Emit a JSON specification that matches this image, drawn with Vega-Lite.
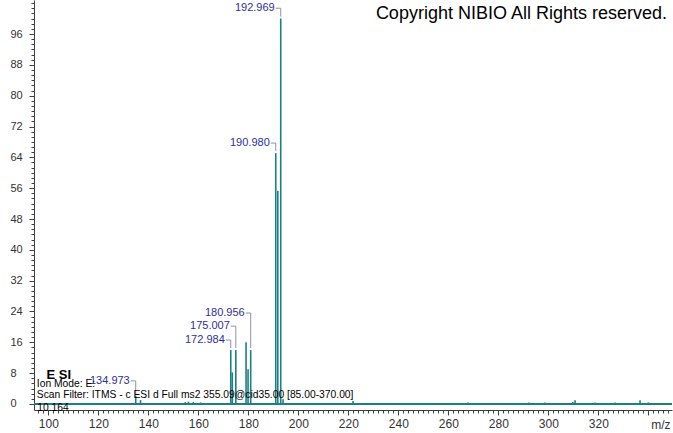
{
  "$schema": "https://vega.github.io/schema/vega-lite/v6.json",
  "width": 638,
  "height": 410,
  "autosize": {"type": "none"},
  "padding": {"left": 34, "top": 0, "right": 1, "bottom": 23},
  "background": "white",
  "config": {"view": {"stroke": null}, "font": "Liberation Sans", "axis": {"grid": false, "domainColor": "#404040", "tickColor": "#404040", "labelColor": "#333333", "labelFont": "Liberation Sans"}},
  "title": {"text": "Copyright NIBIO All Rights reserved.", "orient": "top", "anchor": "end", "frame": "group", "fontSize": 18, "fontWeight": "normal", "font": "Liberation Sans", "color": "#000000", "offset": 0, "baseline": "alphabetic", "dy": 37, "dx": -5},
  "datasets": {
    "peaks": [
      {"mz": 134.973, "intensity": 2.1},
      {"mz": 136.9, "intensity": 1.0},
      {"mz": 154.8, "intensity": 0.5},
      {"mz": 156.1, "intensity": 0.6},
      {"mz": 158.0, "intensity": 0.5},
      {"mz": 160.9, "intensity": 0.4},
      {"mz": 172.984, "intensity": 14.0},
      {"mz": 173.6, "intensity": 8.2},
      {"mz": 175.007, "intensity": 14.0},
      {"mz": 179.1, "intensity": 16.0},
      {"mz": 179.9, "intensity": 9.0},
      {"mz": 180.956, "intensity": 14.0},
      {"mz": 190.98, "intensity": 65.1},
      {"mz": 191.8, "intensity": 55.3},
      {"mz": 192.969, "intensity": 100},
      {"mz": 193.9, "intensity": 1.2},
      {"mz": 221.9, "intensity": 0.8},
      {"mz": 267.8, "intensity": 0.4},
      {"mz": 292.3, "intensity": 0.4},
      {"mz": 298.7, "intensity": 0.4},
      {"mz": 309.8, "intensity": 0.5},
      {"mz": 310.7, "intensity": 1.0},
      {"mz": 318.7, "intensity": 0.4},
      {"mz": 326.7, "intensity": 0.4},
      {"mz": 336.7, "intensity": 1.0},
      {"mz": 340.0, "intensity": 0.4}
    ],
    "labels": [
      {"mz": 192.969, "intensity": 100, "label": "192.969", "level": 102.7},
      {"mz": 190.98, "intensity": 65.1, "label": "190.980", "level": 67.7},
      {"mz": 180.956, "intensity": 14, "label": "180.956", "level": 23.6},
      {"mz": 175.007, "intensity": 14, "label": "175.007", "level": 20.2},
      {"mz": 172.984, "intensity": 14, "label": "172.984", "level": 16.6},
      {"mz": 134.973, "intensity": 2.1, "label": "134.973", "level": 6.0}
    ],
    "notes": [
      {"text": "Ion Mode: E:", "mz": 95.4, "intensity": 5.2},
      {"text": "Scan Filter: ITMS - c ESI d Full ms2 355.09@cid35.00 [85.00-370.00]", "mz": 95.4, "intensity": 2.3},
      {"text": "10.164", "mz": 95.6, "intensity": -1.0}
    ],
    "heading": [
      {"text": "E SI", "mz": 99.3, "intensity": 7.5}
    ]
  },
  "layer": [
    {
      "data": {"name": "peaks"},
      "mark": {"type": "rule", "color": "#1d7f80", "strokeWidth": 1},
      "encoding": {"y": {"datum": 0, "type": "quantitative", "scale": {"domain": [-1.56, 104.83], "nice": false, "zero": false}, "axis": null}}
    },
    {
      "data": {"name": "peaks"},
      "mark": {"type": "rule", "color": "#1d7f80", "strokeWidth": 1.6},
      "encoding": {
        "x": {"field": "mz", "type": "quantitative", "scale": {"domain": [94.28, 349.48], "nice": false, "zero": false},
          "axis": {"orient": "bottom", "values": [100, 120, 140, 160, 180, 200, 220, 240, 260, 280, 300, 320, 340], "labelExpr": "datum.value == 340 ? '' : datum.label", "tickSize": 5, "labelPadding": 3, "labelFontSize": 12, "labelFlush": false, "title": "m/z", "titleAnchor": "end", "titleAlign": "right", "titleBaseline": "middle", "titleX": 636, "titleY": 14, "titleFontSize": 12, "titleFontWeight": "normal", "titleColor": "#333333", "titleFont": "Liberation Sans"}},
        "y": {"field": "intensity", "type": "quantitative",
          "axis": {"orient": "left", "values": [0, 8, 16, 24, 32, 40, 48, 56, 64, 72, 80, 88, 96], "tickSize": 5, "labelAlign": "left", "labelPadding": 19, "labelFontSize": 11, "title": null}},
        "y2": {"datum": 0}
      }
    },
    {
      "data": {"name": "labels"},
      "mark": {"type": "rule", "color": "#9090a8", "strokeWidth": 1, "y2Offset": -2},
      "encoding": {
        "x": {"field": "mz", "type": "quantitative",
          "axis": {"orient": "bottom", "values": [96,98,100,102,104,106,108,110,112,114,116,118,120,122,124,126,128,130,132,134,136,138,140,142,144,146,148,150,152,154,156,158,160,162,164,166,168,170,172,174,176,178,180,182,184,186,188,190,192,194,196,198,200,202,204,206,208,210,212,214,216,218,220,222,224,226,228,230,232,234,236,238,240,242,244,246,248,250,252,254,256,258,260,262,264,266,268,270,272,274,276,278,280,282,284,286,288,290,292,294,296,298,300,302,304,306,308,310,312,314,316,318,320,322,324,326,328,330,332,334,336,338,340,342,344,346,348], "tickSize": 3, "labels": false, "domain": false, "title": null}},
        "y": {"field": "level", "type": "quantitative",
          "axis": {"orient": "left", "values": [0,1.333,2.667,4,5.333,6.667,8,9.333,10.667,12,13.333,14.667,16,17.333,18.667,20,21.333,22.667,24,25.333,26.667,28,29.333,30.667,32,33.333,34.667,36,37.333,38.667,40,41.333,42.667,44,45.333,46.667,48,49.333,50.667,52,53.333,54.667,56,57.333,58.667,60,61.333,62.667,64,65.333,66.667,68,69.333,70.667,72,73.333,74.667,76,77.333,78.667,80,81.333,82.667,84,85.333,86.667,88,89.333,90.667,92,93.333,94.667,96,97.333,98.667,100,101.333,102.667,104], "tickSize": 3, "labels": false, "domain": false, "title": null}},
        "y2": {"field": "intensity"}
      }
    },
    {
      "data": {"name": "labels"},
      "mark": {"type": "rule", "color": "#9090a8", "strokeWidth": 1, "xOffset": -5},
      "encoding": {
        "x": {"field": "mz", "type": "quantitative", "axis": null},
        "x2": {"field": "mz"},
        "y": {"field": "level", "type": "quantitative", "axis": null}
      }
    },
    {
      "data": {"name": "labels"},
      "mark": {"type": "text", "align": "right", "baseline": "middle", "dx": -6, "fontSize": 11, "font": "Liberation Sans", "color": "#2e2ea0"},
      "encoding": {
        "x": {"field": "mz", "type": "quantitative", "axis": null},
        "y": {"field": "level", "type": "quantitative", "axis": null},
        "text": {"field": "label"}
      }
    },
    {
      "data": {"name": "notes"},
      "mark": {"type": "text", "align": "left", "baseline": "middle", "fontSize": 10.3, "font": "Liberation Sans", "color": "#000000"},
      "encoding": {
        "x": {"field": "mz", "type": "quantitative", "axis": null},
        "y": {"field": "intensity", "type": "quantitative", "axis": null},
        "text": {"field": "text"}
      }
    },
    {
      "data": {"name": "heading"},
      "mark": {"type": "text", "align": "left", "baseline": "middle", "fontSize": 13, "fontWeight": "bold", "font": "Liberation Sans", "color": "#000000"},
      "encoding": {
        "x": {"field": "mz", "type": "quantitative", "axis": null},
        "y": {"field": "intensity", "type": "quantitative", "axis": null},
        "text": {"field": "text"}
      }
    }
  ],
  "resolve": {"axis": {"x": "independent", "y": "independent"}}
}
